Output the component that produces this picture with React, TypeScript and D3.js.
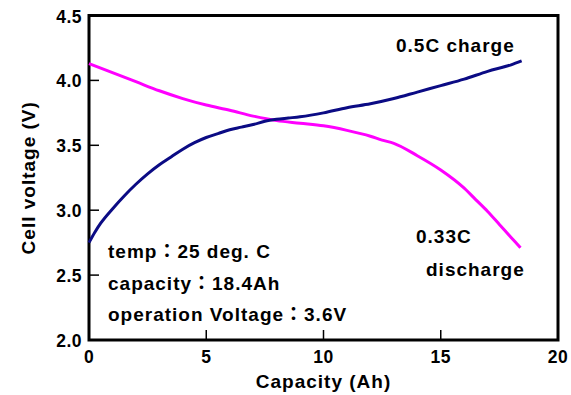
import React from "react";
import * as d3 from "d3";

// Charge curve at 0.5C: capacity (Ah) and cell voltage (V)
const chargeCapacity = [0, 0.25, 0.5, 1, 1.5, 2, 2.5, 3, 3.5, 4, 4.5, 5, 5.5, 6, 6.5, 7, 7.5, 8, 8.5, 9, 10, 11, 12, 13, 14, 15, 16, 17, 18, 18.45];
const chargeVoltage = [2.75, 2.83, 2.9, 3.01, 3.11, 3.2, 3.28, 3.35, 3.41, 3.47, 3.52, 3.56, 3.59, 3.62, 3.64, 3.66, 3.685, 3.7, 3.71, 3.72, 3.75, 3.79, 3.82, 3.86, 3.91, 3.96, 4.01, 4.07, 4.12, 4.15];

// Discharge curve at 0.33C
const dischargeCapacity = [0, 1, 2, 3, 4, 5, 6, 7, 8, 9, 10, 11, 12, 12.5, 13, 14, 15, 16, 16.5, 17, 17.5, 18, 18.4];
const dischargeVoltage = [4.13, 4.06, 3.99, 3.92, 3.86, 3.81, 3.77, 3.725, 3.69, 3.67, 3.65, 3.615, 3.57, 3.54, 3.515, 3.42, 3.31, 3.17, 3.08, 2.99, 2.89, 2.79, 2.71];

const xTicks = [0, 5, 10, 15, 20];
const yTicks = [2.0, 2.5, 3.0, 3.5, 4.0, 4.5];

const infoLines = ["temp：25 deg. C", "capacity：18.4Ah", "operation Voltage：3.6V"];

const W = 571;
const H = 395;
const left = 89;
const right = 558;
const top = 15.5;
const bottom = 340;

const FONT = "'Liberation Sans', Arial, 'Noto Sans CJK JP', sans-serif";

export default function App() {
  const x = d3.scaleLinear().domain([0, 20]).range([left, right]);
  const y = d3.scaleLinear().domain([2.0, 4.5]).range([bottom, top]);

  const line = d3
    .line<[number, number]>()
    .x((d) => x(d[0]))
    .y((d) => y(d[1]))
    .curve(d3.curveMonotoneX);

  const chargePts = chargeCapacity.map((c, i) => [c, chargeVoltage[i]] as [number, number]);
  const dischargePts = dischargeCapacity.map((c, i) => [c, dischargeVoltage[i]] as [number, number]);

  const textStyle = { fontFamily: FONT, fontWeight: 700, fill: "#000" } as const;

  return (
    <svg
      width={W}
      height={H}
      style={{ position: "absolute", left: 0, top: 0, background: "#fff" }}
    >
      {/* plot frame */}
      <rect
        x={left}
        y={top}
        width={right - left}
        height={bottom - top}
        fill="none"
        stroke="#000"
        strokeWidth={3}
      />

      {/* inward ticks */}
      {yTicks
        .filter((t) => t > 2.0 && t < 4.5)
        .map((t) => (
          <line key={"yt" + t} x1={left} x2={left + 10} y1={y(t)} y2={y(t)} stroke="#000" strokeWidth={1.5} />
        ))}
      {xTicks
        .filter((t) => t > 0 && t < 20)
        .map((t) => (
          <line key={"xt" + t} x1={x(t)} x2={x(t)} y1={bottom} y2={bottom - 10} stroke="#000" strokeWidth={1.5} />
        ))}

      {/* tick labels */}
      {yTicks.map((t) => (
        <text
          key={"yl" + t}
          x={left - 7}
          y={y(t) + 7}
          textAnchor="end"
          fontSize={17.5}
          letterSpacing={0.5}
          style={textStyle}
        >
          {t.toFixed(1)}
        </text>
      ))}
      {xTicks.map((t) => (
        <text
          key={"xl" + t}
          x={x(t)}
          y={363}
          textAnchor="middle"
          fontSize={17.5}
          letterSpacing={0.5}
          style={textStyle}
        >
          {t}
        </text>
      ))}

      {/* axis titles */}
      <text x={(left + right) / 2} y={388} textAnchor="middle" fontSize={19} letterSpacing={1} style={textStyle}>
        Capacity (Ah)
      </text>
      <text
        transform={`translate(35, ${(top + bottom) / 2}) rotate(-90)`}
        textAnchor="middle"
        fontSize={19}
        letterSpacing={1}
        style={textStyle}
      >
        Cell voltage (V)
      </text>

      {/* curves */}
      <path d={line(dischargePts) ?? ""} fill="none" stroke="#ff00ff" strokeWidth={3} strokeLinejoin="round" />
      <path d={line(chargePts) ?? ""} fill="none" stroke="#0b0b84" strokeWidth={3} strokeLinejoin="round" />

      {/* curve labels */}
      <text x={396} y={52} fontSize={19} letterSpacing={1} style={textStyle}>
        0.5C charge
      </text>
      <text x={416} y={243} fontSize={19} letterSpacing={1} style={textStyle}>
        0.33C
      </text>
      <text x={426} y={276} fontSize={19} letterSpacing={1} style={textStyle}>
        discharge
      </text>

      {/* cell specification */}
      {infoLines.map((s, i) => (
        <text key={s} x={108} y={258 + i * 31.5} fontSize={19} letterSpacing={1} style={textStyle}>
          {s}
        </text>
      ))}
    </svg>
  );
}
